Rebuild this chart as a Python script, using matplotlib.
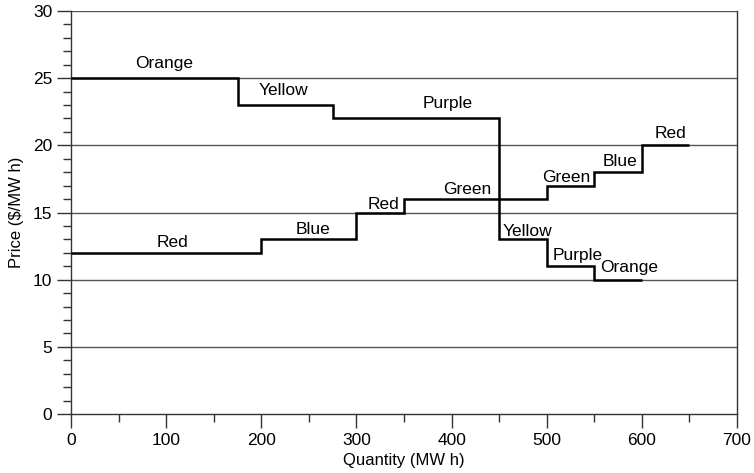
import matplotlib
matplotlib.use('Agg')
import matplotlib.pyplot as plt
from matplotlib.ticker import MultipleLocator

# Offer (supply) and bid (demand) blocks: quantity edges (MW h) and prices ($/MW h)
demand_edges = [0, 175, 275, 450, 500, 550, 600]
demand_prices = [25, 23, 22, 13, 11, 10]
demand_names = ['Orange', 'Yellow', 'Purple', 'Yellow', 'Purple', 'Orange']

supply_edges = [0, 200, 300, 350, 500, 550, 600, 650]
supply_prices = [12, 13, 15, 16, 17, 18, 20]
supply_names = ['Red', 'Blue', 'Red', 'Green', 'Green', 'Blue', 'Red']

# label anchor positions (data coords)
demand_label_x = [98, 223, 396, 480, 532, 587]
demand_label_dy = [1.1, 1.05, 1.1, 0.6, 0.8, 0.9]
supply_label_x = [107, 254, 328, 416, 521, 577, 630]
supply_label_dy = [0.8, 0.7, 0.6, 0.75, 0.6, 0.8, 0.85]

plt.rcParams['font.family'] = ['Liberation Sans', 'DejaVu Sans']

fig = plt.figure(figsize=(7.54, 4.73), dpi=100)
ax = fig.add_axes([0.0942, 0.1247, 0.8833, 0.852])

for y in range(5, 31, 5):
    ax.axhline(y, color='#555555', lw=1.0, zorder=1)

ax.stairs(demand_prices, demand_edges, baseline=None, color='black', lw=1.8, zorder=3)
ax.stairs(supply_prices, supply_edges, baseline=None, color='black', lw=1.8, zorder=3)

for x, p, dy, name in zip(demand_label_x, demand_prices, demand_label_dy, demand_names):
    ax.text(x, p + dy, name, ha='center', va='center', fontsize=12.5, zorder=4)
for x, p, dy, name in zip(supply_label_x, supply_prices, supply_label_dy, supply_names):
    ax.text(x, p + dy, name, ha='center', va='center', fontsize=12.5, zorder=4)

ax.set_xlim(0, 700)
ax.set_ylim(0, 30)
ax.xaxis.set_major_locator(MultipleLocator(100))
ax.xaxis.set_minor_locator(MultipleLocator(50))
ax.yaxis.set_major_locator(MultipleLocator(5))
ax.yaxis.set_minor_locator(MultipleLocator(1))
ax.tick_params(which='major', length=10, width=1, color='#333333', labelsize=12.5)
ax.tick_params(which='minor', length=6, width=1, color='#333333')

for side in ['left', 'right', 'bottom']:
    ax.spines[side].set_color('#333333')
    ax.spines[side].set_linewidth(1)
ax.spines['top'].set_visible(False)

ax.set_xlabel('Quantity (MW h)', fontsize=12, labelpad=4)
ax.set_ylabel('Price ($/MW h)', fontsize=12, labelpad=6)

fig.savefig('out.png', dpi=100)
